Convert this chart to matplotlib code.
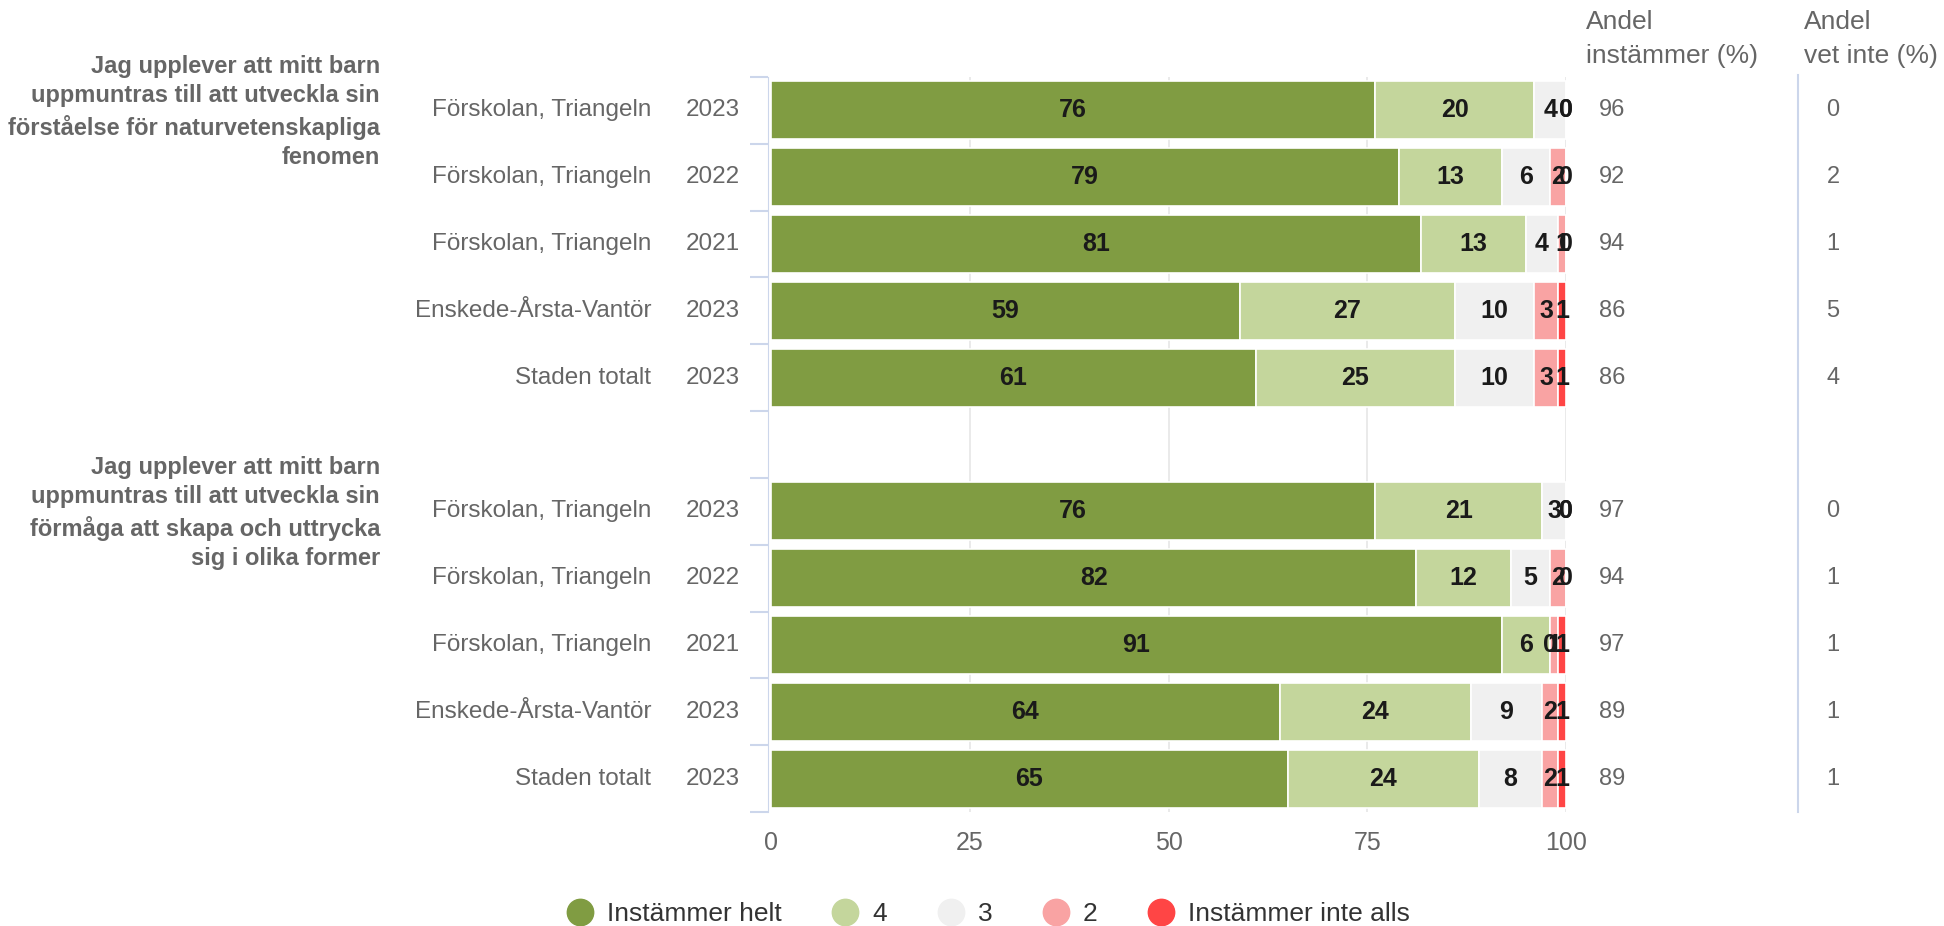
import matplotlib.pyplot as plt
from matplotlib.lines import Line2D
import numpy as np

plt.rcParams['font.family'] = ['Liberation Sans', 'DejaVu Sans']

# question titles
questions = [
    "Jag upplever att mitt barn\nuppmuntras till att utveckla sin\nförståelse för naturvetenskapliga\nfenomen",
    "Jag upplever att mitt barn\nuppmuntras till att utveckla sin\nförmåga att skapa och uttrycka\nsig i olika former",
]
units = ["Förskolan, Triangeln", "Förskolan, Triangeln", "Förskolan, Triangeln",
         "Enskede-Årsta-Vantör", "Staden totalt"]
years = ["2023", "2022", "2021", "2023", "2023"]

series_names = ["Instämmer helt", "4", "3", "2", "Instämmer inte alls"]
colors = ["#809c42", "#c4d69c", "#f0f0f0", "#f9a3a3", "#ff4545"]

# question 1
q1_helt = [76, 79, 81, 59, 61]
q1_4 = [20, 13, 13, 27, 25]
q1_3 = [4, 6, 4, 10, 10]
q1_2 = [0, 2, 1, 3, 3]
q1_inte = [0, 0, 0, 1, 1]
q1_andel = [96, 92, 94, 86, 86]
q1_vetinte = [0, 2, 1, 5, 4]

# question 2
q2_helt = [76, 82, 91, 64, 65]
q2_4 = [21, 12, 6, 24, 24]
q2_3 = [3, 5, 0, 9, 8]
q2_2 = [0, 2, 1, 2, 2]
q2_inte = [0, 0, 1, 1, 1]
q2_andel = [97, 94, 97, 89, 89]
q2_vetinte = [0, 1, 1, 1, 1]

blocks = [
    (np.array([q1_helt, q1_4, q1_3, q1_2, q1_inte], dtype=float), q1_andel, q1_vetinte),
    (np.array([q2_helt, q2_4, q2_3, q2_2, q2_inte], dtype=float), q2_andel, q2_vetinte),
]

W, H = 1944, 926
fig = plt.figure(figsize=(W / 100, H / 100), dpi=100)
px_left, px_right, px_top, px_bottom = 771, 1566, 77, 812
ax = fig.add_axes([px_left / W, 1 - px_bottom / H, (px_right - px_left) / W, (px_bottom - px_top) / H])

def fx(px):
    # figure pixel x -> axes fraction
    return (px - px_left) / (px_right - px_left)

grey = "#666666"
bar_h = 0.87
n_rows = 11
ax.set_xlim(0, 100)
ax.set_ylim(n_rows - 0.5, -0.5)

for x in [25, 50, 75, 100]:
    ax.axvline(x, color="#e6e6e6", lw=1.2, zorder=0)

ytr = ax.get_yaxis_transform()
for b, (vals, andel, vetinte) in enumerate(blocks):
    start = b * 6
    rows = np.arange(start, start + vals.shape[1])
    totals = vals.sum(axis=0)
    pct = vals / totals * 100
    left = np.zeros(vals.shape[1])
    for s in range(vals.shape[0]):
        ax.barh(rows, pct[s], left=left, height=bar_h, color=colors[s],
                edgecolor="white", linewidth=1.2, zorder=2)
        for r, l, w, v in zip(rows, left, pct[s], vals[s]):
            ax.text(l + w / 2, r, f"{int(v)}", ha="center", va="center",
                    fontsize=18, fontweight="bold", color="#1a1a1a", zorder=3)
        left = left + pct[s]
    for i, r in enumerate(rows):
        ax.text(fx(651), r, units[i], transform=ytr, ha="right", va="center",
                fontsize=17.5, color=grey)
        ax.text(fx(740), r, years[i], transform=ytr, ha="right", va="center",
                fontsize=17.5, color=grey)
        ax.text(fx(1612), r, str(andel[i]), transform=ytr, ha="center", va="center",
                fontsize=17, color=grey)
        ax.text(fx(1833), r, str(vetinte[i]), transform=ytr, ha="center", va="center",
                fontsize=17, color=grey)
    ax.text(fx(380), start - 0.83, questions[b], transform=ytr, ha="right", va="top",
            fontsize=17, fontweight="bold", color=grey, linespacing=1.36)

# right-hand column headers and separator
fig.text(1586 / W, 1 - 10 / H, "Andel\ninstämmer (%)", ha="left", va="top",
         fontsize=19, color=grey, linespacing=1.5)
fig.text(1804 / W, 1 - 10 / H, "Andel\nvet inte (%)", ha="left", va="top",
         fontsize=19, color=grey, linespacing=1.5)
fig.add_artist(Line2D([1798 / W, 1798 / W], [1 - 75 / H, 1 - 812 / H],
                      color="#ccd6eb", lw=1.5))

# axes styling
for sp in ["top", "right", "bottom"]:
    ax.spines[sp].set_visible(False)
ax.spines["left"].set_color("#ccd6eb")
ax.spines["left"].set_position(("outward", 2))
ax.set_yticks(np.arange(-0.5, n_rows, 1.0))
ax.set_yticklabels([])
ax.tick_params(axis="y", length=13, width=1.5, color="#ccd6eb", direction="out")
ax.set_xticks([0, 25, 50, 75, 100])
ax.tick_params(axis="x", length=0, pad=14, labelsize=18, labelcolor=grey)

handles = [Line2D([], [], marker="o", ls="", markersize=19, color=c) for c in colors]
fig.legend(handles, series_names, loc="center", bbox_to_anchor=(0.5085, 1 - 914 / H),
           ncol=5, frameon=False, fontsize=19, labelcolor="#333333",
           handlelength=1.0, handletextpad=0.53, columnspacing=1.9, borderpad=0)

fig.savefig("out.png", dpi=100)
